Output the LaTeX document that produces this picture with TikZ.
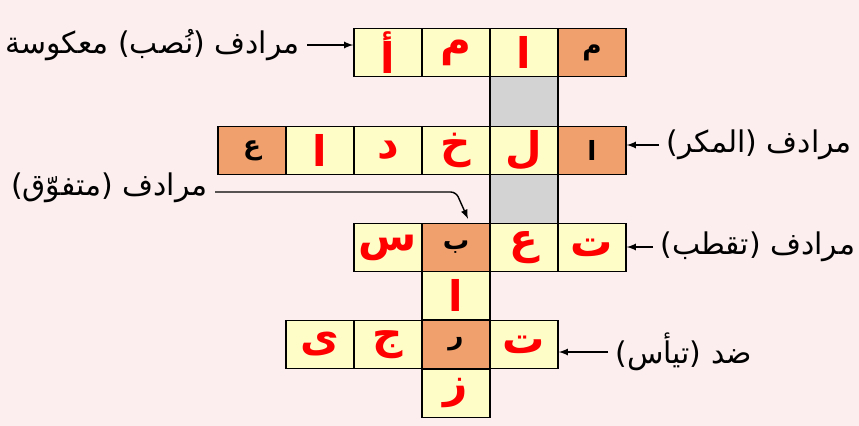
\documentclass[tikz,border=0pt]{standalone}
\usepackage{fontspec}
\newfontfamily\arabicfont[Script=Arabic]{DejaVu Sans}
\TeXXeTstate=1
\newcommand{\artext}[1]{{\arabicfont\beginR #1\endR}}
\definecolor{pagepink}{RGB}{252,238,238}
\definecolor{cellyellow}{RGB}{254,253,200}
\definecolor{cellorange}{RGB}{240,160,108}
\definecolor{cellgray}{RGB}{211,211,211}

\begin{document}
\begin{tikzpicture}[x=0.02cm, y=-0.02cm,
cellnode/.style={draw=black, thick, fill=cellyellow, minimum width=1.36cm, minimum height=0.96cm, inner sep=0pt, text=red, font=\fontsize{24}{24}\selectfont\bfseries},
keynode/.style={cellnode, fill=cellorange, text=black, font=\fontsize{15}{15}\selectfont\bfseries},
graynode/.style={draw=black, thick, fill=cellgray, minimum width=1.36cm, inner sep=0pt},
cluenode/.style={inner sep=4pt, font=\fontsize{17}{20}\selectfont}
]
\fill[pagepink] (0,0) rectangle (859,426);
\useasboundingbox (0,0) rectangle (859,426);

% gray strip between the rows
\node[graynode, minimum height=1.02cm] at (524,101.5) (g1) {};
\node[graynode, minimum height=1.0cm] at (524,199) (g2) {};

% row 1
\node[cellnode] at (388,52.5) (a1) {\artext{أ}};
\node[cellnode] at (456,52.5) (a2) {\artext{م}};
\node[cellnode] at (524,52.5) (a3) {\artext{ا}};
\node[keynode] at (592,52.5) (a4) {\artext{م}};

% row 2
\node[keynode] at (252,150.5) (b1) {\artext{ع}};
\node[cellnode] at (320,150.5) (b2) {\artext{ا}};
\node[cellnode] at (388,150.5) (b3) {\artext{د}};
\node[cellnode] at (456,150.5) (b4) {\artext{خ}};
\node[cellnode] at (524,150.5) (b5) {\artext{ل}};
\node[keynode] at (592,150.5) (b6) {\artext{ا}};

% row 3
\node[cellnode] at (388,247.5) (c1) {\artext{س}};
\node[keynode] at (456,247.5) (c2) {\artext{ب}};
\node[cellnode] at (524,247.5) (c3) {\artext{ع}};
\node[cellnode] at (592,247.5) (c4) {\artext{ت}};
\node[cellnode] at (456,295.5) (c5) {\artext{ا}};

% row 4
\node[cellnode] at (320,344.5) (d1) {\artext{ى}};
\node[cellnode] at (388,344.5) (d2) {\artext{ج}};
\node[keynode] at (456,344.5) (d3) {\artext{ر}};
\node[cellnode] at (524,344.5) (d4) {\artext{ت}};
\node[cellnode] at (456,393.5) (d5) {\artext{ز}};

% clues
\node[cluenode, anchor=east] at (307,45) (clue1) {\artext{مرادف (نُصب) معكوسة}};
\node[cluenode, anchor=west] at (659,145) (clue2) {\artext{مرادف (المكر)}};
\node[cluenode, anchor=west] at (653,247) (clue3) {\artext{مرادف (تقطب)}};
\node[cluenode, anchor=west] at (608,352) (clue4) {\artext{ضد (تيأس)}};
\node[cluenode, anchor=east] at (215,188) (clue5) {\artext{مرادف (متفوّق)}};
\coordinate (bend) at (456,192);

\draw[-latex, thick] (clue1.east) -- (a1.west |- clue1.east);
\draw[-latex, thick] (clue2.west) -- (b6.east |- clue2.west);
\draw[-latex, thick] (clue3.west) -- (c4.east |- clue3.west);
\draw[-latex, thick] (clue4.west) -- (d4.east |- clue4.west);
\draw[-latex, thick, rounded corners=3] (clue5.east |- bend) -- (bend) -- ([xshift=0.24cm, yshift=0.08cm]c2.north);
\end{tikzpicture}
\end{document}
